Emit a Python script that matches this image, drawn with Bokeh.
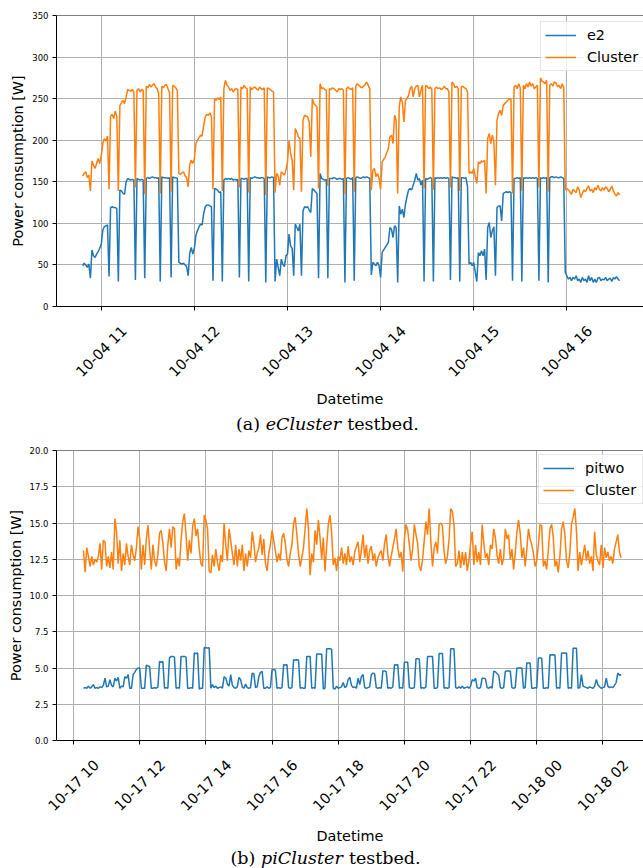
import numpy as np
import pandas as pd
from bokeh.plotting import figure
from bokeh.layouts import column
from bokeh.models import (FixedTicker, NumeralTickFormatter, Label, Span,
                          Legend, LegendItem, Range1d, ColumnDataSource,
                          DatetimeAxis, DatetimeTickFormatter)
from bokeh.embed import file_html
from bokeh.resources import INLINE

# ---------------- data: (a) eCluster testbed, one sample per minute ----------------
top_start = "2020-10-04 10:48"
top_freq = "1min"
top_names = ["e2", "Cluster"]
e2 = [
    49, 52, 50, 47, 51, 34, 68, 61, 59, 63,
    66, 70, 75, 92, 96, 97, 98, 36, 119, 120,
    119, 119, 118, 30, 140, 139, 136, 135, 150, 154,
    153, 152, 153, 152, 32, 154, 153, 152, 153, 152,
    34, 154, 155, 154, 155, 156, 155, 155, 154, 155,
    30, 156, 155, 155, 155, 154, 155, 35, 156, 155,
    155, 154, 53, 52, 51, 52, 50, 48, 37, 64,
    71, 63, 70, 86, 91, 96, 99, 98, 112, 120,
    122, 122, 121, 120, 31, 142, 141, 140, 137, 138,
    30, 152, 154, 153, 154, 153, 154, 152, 153, 152,
    153, 35, 154, 154, 153, 154, 154, 30, 155, 154,
    155, 156, 155, 155, 154, 155, 155, 154, 29, 156,
    155, 155, 156, 155, 30, 57, 47, 37, 57, 51,
    48, 61, 63, 87, 73, 70, 37, 99, 95, 91,
    99, 37, 115, 120, 119, 120, 116, 113, 142, 140,
    138, 136, 34, 160, 154, 153, 152, 153, 34, 154,
    154, 154, 155, 154, 153, 154, 154, 153, 154, 29,
    154, 155, 154, 153, 155, 31, 155, 156, 155, 154,
    155, 156, 155, 156, 155, 154, 38, 53, 51, 49,
    53, 49, 35, 65, 68, 71, 74, 77, 95, 93,
    83, 97, 95, 29, 121, 111, 117, 107, 123, 132,
    140, 142, 140, 146, 152, 160, 152, 154, 146, 152,
    30, 154, 153, 154, 155, 154, 30, 155, 154, 155,
    154, 155, 154, 155, 154, 155, 154, 32, 156, 155,
    155, 154, 155, 30, 155, 155, 154, 155, 144, 51,
    53, 49, 53, 41, 30, 65, 61, 67, 61, 69,
    32, 95, 101, 83, 91, 96, 37, 119, 121, 121,
    103, 136, 137, 138, 137, 138, 137, 31, 154, 154,
    155, 154, 155, 30, 155, 154, 155, 154, 155, 154,
    155, 154, 155, 154, 31, 155, 154, 155, 154, 155,
    29, 155, 156, 156, 155, 156, 155, 155, 156, 155,
    154, 41,
    37, 33, 35, 31, 35, 33, 37, 31, 33, 29, 35, 31, 33, 29, 37, 31, 35, 29,
    33, 29, 34, 35, 31, 33, 32, 35, 31, 33, 34, 30, 35, 33, 36, 33, 31,
]
cluster_a = [
    157, 160, 162, 155, 158, 139, 175, 170, 166, 172,
    178, 172, 182, 196, 202, 199, 205, 141, 229, 231,
    226, 235, 229, 139, 242, 245, 248, 244, 252, 261,
    260, 259, 261, 258, 143, 260, 262, 258, 261, 260,
    135, 265, 263, 267, 264, 266, 268, 264, 262, 256,
    136, 265, 263, 266, 267, 262, 257, 138, 266, 265,
    263, 260, 160, 159, 161, 162, 157, 155, 144, 171,
    176, 172, 178, 196, 200, 203, 206, 205, 218, 228,
    231, 230, 233, 228, 141, 250, 248, 251, 249, 252,
    139, 262, 272, 266, 264, 260, 262, 258, 261, 262,
    261, 143, 264, 262, 266, 263, 262, 137, 264, 261,
    263, 264, 262, 260, 264, 262, 261, 263, 134, 263,
    262, 261, 259, 258, 137, 160, 157, 146, 162, 160,
    158, 164, 174, 200, 184, 176, 140, 214, 210, 204,
    202, 138, 224, 230, 229, 228, 222, 180, 250, 244,
    242, 240, 142, 268, 262, 263, 261, 260, 145, 262,
    261, 263, 262, 260, 258, 262, 261, 262, 260, 135,
    262, 264, 262, 261, 263, 138, 265, 268, 266, 264,
    263, 265, 267, 270, 266, 262, 140, 164, 166, 156,
    160, 154, 141, 174, 177, 180, 185, 190, 204, 206,
    196, 230, 224, 136, 240, 252, 246, 222, 248, 250,
    254, 262, 265, 252, 262, 265, 266, 252, 260, 266,
    142, 266, 265, 262, 264, 261, 140, 262, 264, 262,
    263, 261, 262, 265, 262, 262, 258, 143, 270, 268,
    263, 265, 262, 139, 264, 265, 263, 262, 258, 160,
    162, 160, 166, 156, 148, 174, 172, 175, 174, 176,
    136, 202, 208, 196, 206, 198, 146, 224, 232, 236,
    230, 242, 244, 246, 248, 250, 249, 136, 264, 266,
    262, 268, 263, 139, 266, 262, 268, 264, 270, 265,
    268, 262, 264, 266, 143, 275, 271, 270, 268, 272,
    138, 266, 268, 265, 270, 269, 264, 266, 262, 268,
    263, 140,
    142, 140, 138, 135, 141, 139, 137, 144, 140, 131, 136, 140, 138, 142, 145, 139, 141, 137,
    143, 140, 146, 141, 139, 143, 140, 144, 142, 138, 141, 145, 139, 135, 133, 137, 134,
]
top_ticks = ["2020-10-04 11:00", "2020-10-04 12:00", "2020-10-04 13:00",
             "2020-10-04 14:00", "2020-10-04 15:00", "2020-10-04 16:00"]
top_xrange = ("2020-10-04 10:31:09", "2020-10-04 16:49:24")
top_yticks = [0, 50, 100, 150, 200, 250, 300, 350]

# ---------------- data: (b) piCluster testbed, one sample per 3 minutes ----------------
bot_start = "2020-10-17 10:18"
bot_freq = "3min"
bot_names = ["pitwo", "Cluster"]
pitwo = [
    3.6, 3.65, 3.6, 3.75, 3.6, 3.7, 3.85, 3.6, 3.65, 3.6,
    3.7, 3.65, 3.8, 4.3, 3.7, 3.75, 4.2, 3.8, 3.7, 4.3,
    4.1, 4.35, 3.6, 3.75, 3.7, 4.4, 4.3, 4.55, 3.6, 3.6,
    4.55, 4.7, 4.9, 5.0, 5.0, 3.6, 3.6, 3.6, 5.2, 5.15,
    5.1, 3.6, 3.6, 3.65, 3.6, 3.7, 5.45, 5.4, 5.45, 3.6,
    3.65, 3.6, 5.7, 5.8, 5.8, 5.75, 3.6, 3.65, 3.6, 5.8,
    5.8, 5.8, 5.75, 3.6, 3.6, 3.65, 3.6, 6.03, 6.0, 6.03,
    3.55, 3.6, 3.6, 6.42, 6.4, 6.38, 6.4, 3.6, 3.85, 3.65,
    3.75, 3.6, 3.65, 3.7, 3.6, 4.4, 4.3, 3.9, 3.75, 4.55,
    3.8, 3.65, 3.6, 3.7, 4.35, 4.2, 3.7, 3.6, 3.9, 3.65,
    3.6, 3.65, 4.65, 4.6, 3.65, 3.7, 4.4, 4.7, 4.77, 3.6,
    3.6, 3.7, 3.6, 3.65, 4.9, 4.9, 4.85, 3.6, 3.65, 3.6,
    3.65, 5.23, 5.2, 5.23, 3.65, 3.6, 3.65, 5.57, 5.55, 5.57,
    5.55, 3.6, 3.65, 3.6, 3.6, 5.8, 5.8, 5.8, 3.6, 3.65,
    3.6, 5.96, 5.96, 5.95, 5.96, 3.55, 3.6, 6.33, 6.33, 6.33,
    6.3, 3.6, 3.55, 3.75, 3.6, 3.65, 3.7, 4.0, 3.65, 3.75,
    4.2, 4.36, 3.8, 3.65, 3.7, 3.6, 4.3, 3.85, 4.4, 4.55,
    3.65, 3.6, 3.65, 3.7, 4.55, 4.65, 4.6, 3.65, 3.6, 3.65,
    3.6, 4.8, 4.8, 4.75, 3.6, 3.65, 3.6, 3.7, 5.23, 5.2,
    5.23, 3.6, 3.65, 3.6, 5.4, 5.4, 5.4, 3.65, 3.6, 3.6,
    3.65, 5.64, 5.64, 5.62, 3.6, 3.65, 3.6, 3.7, 5.8, 5.8,
    5.8, 5.8, 3.6, 3.6, 3.65, 6.0, 6.0, 6.0, 3.6, 3.65,
    3.6, 3.65, 6.33, 6.32, 6.33, 3.65, 3.6, 3.7, 3.6, 3.75,
    3.6, 3.65, 3.7, 3.6, 3.75, 4.2, 4.1, 4.3, 3.65, 3.6,
    3.65, 4.3, 4.3, 4.25, 3.65, 3.6, 3.7, 3.6, 4.77, 4.75,
    4.6, 4.5, 3.65, 3.6, 3.65, 4.77, 4.8, 4.8, 4.78, 3.65,
    3.6, 3.65, 5.0, 5.0, 5.0, 5.0, 3.6, 3.65, 5.35, 5.35,
    5.35, 3.6, 3.6, 3.65, 3.6, 5.69, 5.69, 5.68, 3.6, 3.6,
    3.65, 3.6, 5.92, 5.9, 5.92, 5.9, 3.6, 3.65, 3.6, 6.03,
    6.03, 6.02, 6.03, 3.6, 3.65, 3.6, 6.37, 6.37, 6.37, 3.6,
    3.65, 4.55, 3.75, 3.7, 3.65, 3.6, 3.7, 3.65, 3.6, 3.75,
    4.2, 3.85, 3.7, 3.6, 3.65, 3.7, 4.3, 3.75, 3.65, 3.7,
    3.65, 3.8, 4.0, 4.65, 4.5, 4.55,
]
cluster_b = [
    13.1, 11.6, 13.3, 12.7, 12.0, 12.7, 12.1, 12.5, 12.3, 12.7,
    13.6, 11.8, 13.8, 13.7, 12.0, 12.7, 11.9, 13.0, 11.8, 15.3,
    14.4, 12.2, 13.8, 11.7, 12.9, 12.1, 13.6, 12.7, 12.1, 13.5,
    12.8, 12.4, 13.3, 14.75, 13.9, 11.8, 13.5, 12.1, 13.9, 14.85,
    13.2, 11.8, 13.5, 12.4, 12.0, 12.8, 14.3, 14.5, 13.6, 12.3,
    11.7, 13.5, 14.6, 13.3, 14.75, 14.6, 11.8, 12.6, 12.0, 13.8,
    15.1, 15.65, 14.2, 12.4, 13.8, 12.9, 14.75, 15.3, 14.1, 14.6,
    13.2, 12.2, 12.0, 15.55, 15.2, 14.6, 11.7, 11.55, 12.8, 12.0,
    13.2, 12.3, 11.7, 12.8, 12.3, 15.0, 13.5, 12.4, 14.6, 13.8,
    12.9, 12.1, 13.5, 12.0, 13.2, 12.4, 13.5, 11.7, 12.9, 12.0,
    13.1, 12.6, 14.4, 13.6, 12.3, 12.9, 13.25, 14.2, 12.8, 13.9,
    12.2, 11.7, 12.9, 13.5, 14.5, 13.8, 13.1, 12.3, 12.9, 12.4,
    14.0, 14.3, 13.6, 12.5, 12.0, 12.9, 13.5, 15.0, 15.4, 14.2,
    12.9, 12.0, 12.6, 13.3, 14.6, 16.0, 14.6, 11.4, 12.9, 12.3,
    14.5, 13.5, 15.2, 14.0, 12.5, 14.0, 11.65, 13.4, 14.9, 15.55,
    14.4, 12.1, 12.6, 11.7, 12.7, 12.4, 13.3, 12.2, 12.9, 12.1,
    13.4, 12.3, 12.7, 12.1, 13.0, 13.4, 13.7, 12.3, 13.1, 14.2,
    12.6, 13.5, 12.2, 13.1, 13.4, 12.4, 12.9, 12.0, 12.6, 12.9,
    13.1, 12.4, 13.6, 14.2, 12.8, 12.0, 12.7, 13.3, 13.9, 14.6,
    13.3, 12.6, 13.0, 11.65, 13.9, 14.9, 14.5, 13.5, 12.4, 13.2,
    14.9, 14.2, 13.6, 12.0, 11.7, 12.5, 13.8, 15.1, 14.2, 16.0,
    13.7, 12.0, 13.3, 13.7, 12.9, 14.9, 15.0, 14.8, 13.0, 12.2,
    12.7, 13.9, 16.0, 15.8, 14.8, 12.0, 12.2, 13.1, 11.9, 13.0,
    12.1, 13.0, 11.7, 12.4, 13.6, 14.4, 12.1, 13.5, 12.3, 13.0,
    12.1, 14.9, 13.6, 12.6, 12.9, 12.1, 13.5, 13.2, 14.6, 14.0,
    12.8, 12.2, 13.2, 12.1, 12.6, 14.6, 13.9, 14.2, 12.5, 13.2,
    11.8, 12.9, 14.4, 15.2, 14.3, 12.6, 13.3, 12.0, 13.2, 14.6,
    13.9, 13.5, 12.9, 12.0, 12.4, 13.5, 14.9, 14.8, 12.0, 12.4,
    11.8, 13.1, 14.6, 14.9, 14.0, 12.0, 12.4, 11.6, 12.7, 14.6,
    15.1, 14.2, 12.4, 11.9, 12.9, 14.9, 15.4, 16.0, 14.5, 11.7,
    13.0, 12.1, 12.8, 13.5, 12.4, 13.1, 12.2, 12.7, 11.7, 14.4,
    12.8, 12.4, 12.1, 13.5, 11.9, 13.3, 12.6, 13.0, 12.4, 12.7,
    12.2, 13.2, 13.7, 14.2, 13.0, 12.6,
]
bot_ticks = ["2020-10-17 10:00", "2020-10-17 12:00", "2020-10-17 14:00",
             "2020-10-17 16:00", "2020-10-17 18:00", "2020-10-17 20:00",
             "2020-10-17 22:00", "2020-10-18 00:00", "2020-10-18 02:00"]
bot_xrange = ("2020-10-17 09:29:06", "2020-10-18 03:13:36")
bot_yticks = [0, 2.5, 5, 7.5, 10, 12.5, 15, 17.5, 20]

# ---------------- styling ----------------
FONT = "DejaVu Sans"
SERIF = "DejaVu Serif"
BLUE = "#1f77b4"
ORANGE = "#ff7f0e"
W = 643
FS = "14.4px"
TICK_FMT = "%m-%d %H"
LABEL_SHIFT_PX = 23   # rotated labels are right-anchored; shift so they centre on the tick


def ms(s):
    return pd.Timestamp(s).value / 1e6


def main_panel(start, freq, s1, s2, names, xr, yr, yticks, yfmt, xticks,
               height, left, top, bottom, ylabel_standoff, label_standoff,
               xlabel_standoff, legend_xy):
    times = pd.date_range(start, periods=len(s1), freq=freq)
    src = ColumnDataSource(dict(t=times, a=s1, b=s2))
    x0, x1 = ms(xr[0]), ms(xr[1])
    p = figure(width=W, height=height, x_axis_type="datetime",
               x_range=Range1d(x0, x1), y_range=Range1d(*yr),
               output_backend="svg", toolbar_location=None,
               min_border_left=left, min_border_right=0,
               min_border_top=top, min_border_bottom=bottom)
    p.outline_line_color = None
    p.background_fill_color = "white"
    p.border_fill_color = "white"

    r1 = p.line("t", "a", source=src, line_color=BLUE, line_width=1.5)
    r2 = p.line("t", "b", source=src, line_color=ORANGE, line_width=1.5)

    tick_ms = [ms(s) for s in xticks]
    p.xaxis.ticker = FixedTicker(ticks=tick_ms)
    p.xgrid.ticker = FixedTicker(ticks=tick_ms)
    p.yaxis.ticker = FixedTicker(ticks=yticks)
    p.ygrid.ticker = FixedTicker(ticks=yticks)
    p.yaxis.formatter = NumeralTickFormatter(format=yfmt)

    for ax in (p.xaxis[0], p.yaxis[0]):
        ax.axis_line_color = "black"
        ax.axis_line_width = 1
        ax.major_tick_line_color = "black"
        ax.major_tick_line_width = 1
        ax.major_tick_out = 4
        ax.major_tick_in = 0
        ax.minor_tick_line_color = None

    p.yaxis.major_label_text_font = FONT
    p.yaxis.major_label_text_font_size = "8.5px"
    p.yaxis.major_label_text_color = "black"
    p.yaxis.major_label_standoff = 4
    p.yaxis.axis_label = "Power consumption [W]"
    p.yaxis.axis_label_standoff = ylabel_standoff
    p.yaxis.axis_label_text_font = FONT
    p.yaxis.axis_label_text_font_size = FS
    p.yaxis.axis_label_text_font_style = "normal"
    p.yaxis.axis_label_text_color = "black"

    # main x axis: spine + tick marks only
    p.xaxis.major_label_overrides = {t: "" for t in tick_ms}
    p.xaxis.major_label_text_font_size = "0px"
    p.xaxis.major_label_standoff = 0

    # second x axis carrying the rotated tick labels and the axis label
    frame_w = W - left
    mpp = (x1 - x0) / frame_w
    lab_ticks = [t + LABEL_SHIFT_PX * mpp for t in tick_ms]
    fmt = DatetimeTickFormatter(milliseconds=TICK_FMT, seconds=TICK_FMT, minsec=TICK_FMT,
                                minutes=TICK_FMT, hourmin=TICK_FMT, hours=TICK_FMT,
                                days=TICK_FMT, months=TICK_FMT, years=TICK_FMT)
    lab_axis = DatetimeAxis(ticker=FixedTicker(ticks=lab_ticks), formatter=fmt,
                            major_label_orientation=np.pi / 4,
                            axis_line_color=None, major_tick_line_color=None,
                            minor_tick_line_color=None, major_tick_out=0, major_tick_in=0,
                            major_label_standoff=label_standoff,
                            major_label_text_font=FONT, major_label_text_font_size=FS,
                            major_label_text_color="black",
                            axis_label="Datetime", axis_label_standoff=xlabel_standoff,
                            axis_label_text_font=FONT, axis_label_text_font_size=FS,
                            axis_label_text_font_style="normal",
                            axis_label_text_color="black")
    p.add_layout(lab_axis, "below")

    p.grid.grid_line_color = "#b0b0b0"
    p.grid.grid_line_width = 1

    p.add_layout(Span(location=yr[1], dimension="width",
                      line_color="black", line_width=1))

    legend = Legend(items=[LegendItem(label=names[0], renderers=[r1]),
                           LegendItem(label=names[1], renderers=[r2])],
                    location=legend_xy)
    legend.label_text_font = FONT
    legend.label_text_font_size = FS
    legend.label_text_color = "black"
    legend.border_line_color = "#cccccc"
    legend.border_line_width = 1
    legend.background_fill_alpha = 0.8
    legend.padding = 4
    legend.spacing = 4
    legend.margin = 0
    legend.glyph_width = 31
    legend.glyph_height = 18
    legend.label_height = 18
    legend.label_width = 53
    legend.label_standoff = 11
    p.add_layout(legend)
    return p


def caption_panel(height, frame_left, caption, center_from_bottom):
    s = figure(width=W, height=height, x_range=Range1d(0, 1), y_range=Range1d(0, 1),
               output_backend="svg", toolbar_location=None, min_border=0,
               x_axis_location=None, y_axis_location=None)
    s.outline_line_color = None
    s.grid.visible = False
    s.background_fill_color = "white"
    s.border_fill_color = "white"
    for text, style, x in caption:
        s.add_layout(Label(x=x - frame_left, y=center_from_bottom,
                           x_units="screen", y_units="screen",
                           text=text, text_font=SERIF, text_font_size="17.5px",
                           text_font_style=style, text_align="left",
                           text_baseline="middle", text_color="black"))
    return s


# caption pieces: (text, style, page x of the left edge)
cap_a = [("(a)", "normal", 232.5), ("eCluster", "italic", 262.2), ("testbed.", "normal", 343.7)]
cap_b = [("(b)", "normal", 230.0), ("piCluster", "italic", 260.5), ("testbed.", "normal", 348.4)]

p1 = main_panel(top_start, top_freq, e2, cluster_a, top_names, top_xrange, (0, 350),
                top_yticks, "0", top_ticks, height=410, left=53, top=15, bottom=104,
                ylabel_standoff=3, label_standoff=18, xlabel_standoff=2,
                legend_xy=(484, 235))
c1 = caption_panel(30, 53, cap_a, 17)
p2 = main_panel(bot_start, bot_freq, pitwo, cluster_b, bot_names, bot_xrange, (0, 20),
                bot_yticks, "0.0", bot_ticks, height=406, left=56, top=10, bottom=105,
                ylabel_standoff=3, label_standoff=18, xlabel_standoff=5,
                legend_xy=(482, 236))
c2 = caption_panel(22, 56, cap_b, 11)

layout = column(p1, c1, p2, c2, spacing=0)
open("out.html", "w").write(file_html(layout, INLINE))
